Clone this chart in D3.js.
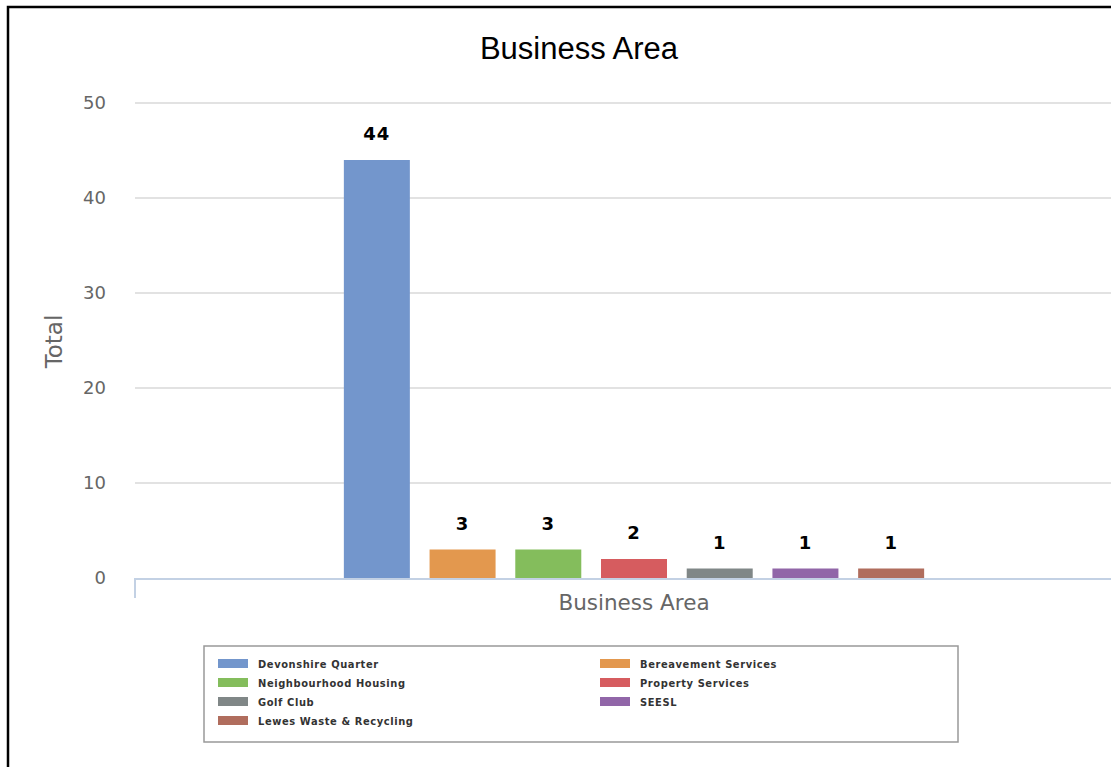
<!DOCTYPE html>
<html><head><meta charset="utf-8">
<script src="https://cdn.jsdelivr.net/npm/d3@7"></script>
<style>body{margin:0;background:#fff;}svg{display:block;}</style>
</head><body>
<svg id="c" width="1111" height="767"></svg>
<script>
const title = "Business Area";
const xAxisTitle = "Business Area";
const yAxisTitle = "Total";
const groups = ["Business Area"];
const seriesNames = ["Devonshire Quarter","Bereavement Services","Neighbourhood Housing","Property Services","Golf Club","SEESL","Lewes Waste & Recycling"];
const seriesValues = [44,3,3,2,1,1,1];
const seriesColors = ["#7396cc","#e3984e","#84bd5c","#d65c5f","#808787","#9166a8","#b06d5d"];
const yTicks = [0,10,20,30,40,50];

const svg = d3.select("#c");
// frame
svg.append("path").attr("d","M8,767 L8,7 L1111,7").attr("fill","none").attr("stroke","#000").attr("stroke-width",2.5);

const pLeft = 135, pRight = 1133, pTop = 103, pBottom = 578;
const y = d3.scaleLinear().domain([0,50]).range([pBottom, pTop]);
const x0 = d3.scaleBand().domain(groups).range([pLeft, pRight]).paddingOuter(0.2);
const x1 = d3.scaleBand().domain(seriesNames).range([0, 600]).paddingInner(0.23).paddingOuter(0.115);
const gx = x0(groups[0]) + (x0.bandwidth() - 600) / 2;

// title
svg.append("text").attr("x",579).attr("y",59).attr("text-anchor","middle")
  .attr("font-family","Liberation Sans, Arial, sans-serif").attr("font-size",31).attr("fill","#000").text(title);

// gridlines
svg.append("g").selectAll("line").data(yTicks.filter(d=>d>0)).join("line")
  .attr("x1",pLeft).attr("x2",1111).attr("y1",d=>y(d)).attr("y2",d=>y(d))
  .attr("stroke","#d9d9d9").attr("stroke-width",1.5);

// y tick labels
const yAxis = d3.axisLeft(y).tickValues(yTicks).tickSize(0).tickPadding(0);
const ga = svg.append("g").attr("transform",`translate(106,0)`).call(yAxis);
ga.select(".domain").remove();
ga.selectAll("text").attr("font-family","DejaVu Sans, sans-serif").attr("font-size",18).attr("fill","#666").attr("dy","0.32em");

// y title
svg.append("text").attr("transform",`translate(62,${(pTop+pBottom)/2+1}) rotate(-90)`).attr("text-anchor","middle")
  .attr("font-family","DejaVu Sans, sans-serif").attr("font-size",23).attr("fill","#666").text(yAxisTitle);

// bars
svg.append("g").selectAll("rect").data(seriesValues).join("rect")
  .attr("x",(d,i)=>gx + x1(seriesNames[i])).attr("width",x1.bandwidth())
  .attr("y",d=>y(d)).attr("height",d=>pBottom - y(d))
  .attr("fill",(d,i)=>seriesColors[i]);

// labels
svg.append("g").selectAll("text").data(seriesValues).join("text")
  .attr("x",(d,i)=>gx + x1(seriesNames[i]) + x1.bandwidth()/2).attr("y",d=>y(d)-20)
  .attr("text-anchor","middle").attr("font-family","DejaVu Sans, sans-serif").attr("font-weight","bold")
  .attr("font-size",18).attr("letter-spacing",1).attr("fill","#000").text(d=>d);

// x axis baseline + left axis stub
svg.append("line").attr("x1",pLeft).attr("x2",1111).attr("y1",pBottom+1).attr("y2",pBottom+1).attr("stroke","#c3d1e4").attr("stroke-width",2);
svg.append("line").attr("x1",pLeft).attr("x2",pLeft).attr("y1",pBottom).attr("y2",598).attr("stroke","#c3d1e4").attr("stroke-width",2);

// x title
svg.append("text").attr("x",634).attr("y",610).attr("text-anchor","middle")
  .attr("font-family","DejaVu Sans, sans-serif").attr("font-size",21.5).attr("fill","#666").text(xAxisTitle);

// legend
svg.append("rect").attr("x",204).attr("y",646).attr("width",754).attr("height",96)
  .attr("fill","#fff").attr("stroke","#999").attr("stroke-width",1.5);
const lg = svg.append("g").selectAll("g").data(seriesNames).join("g")
  .attr("transform",(d,i)=>`translate(${i%2===0?218:600},${659 + Math.floor(i/2)*19})`);
lg.append("rect").attr("width",30).attr("height",9).attr("fill",(d,i)=>seriesColors[i]);
lg.append("text").attr("x",40).attr("y",8.5).attr("font-family","DejaVu Sans Condensed, DejaVu Sans, sans-serif")
  .attr("font-weight","bold").attr("font-size",11).attr("letter-spacing",0.6).attr("fill","#333").text(d=>d);
</script>
</body></html>
